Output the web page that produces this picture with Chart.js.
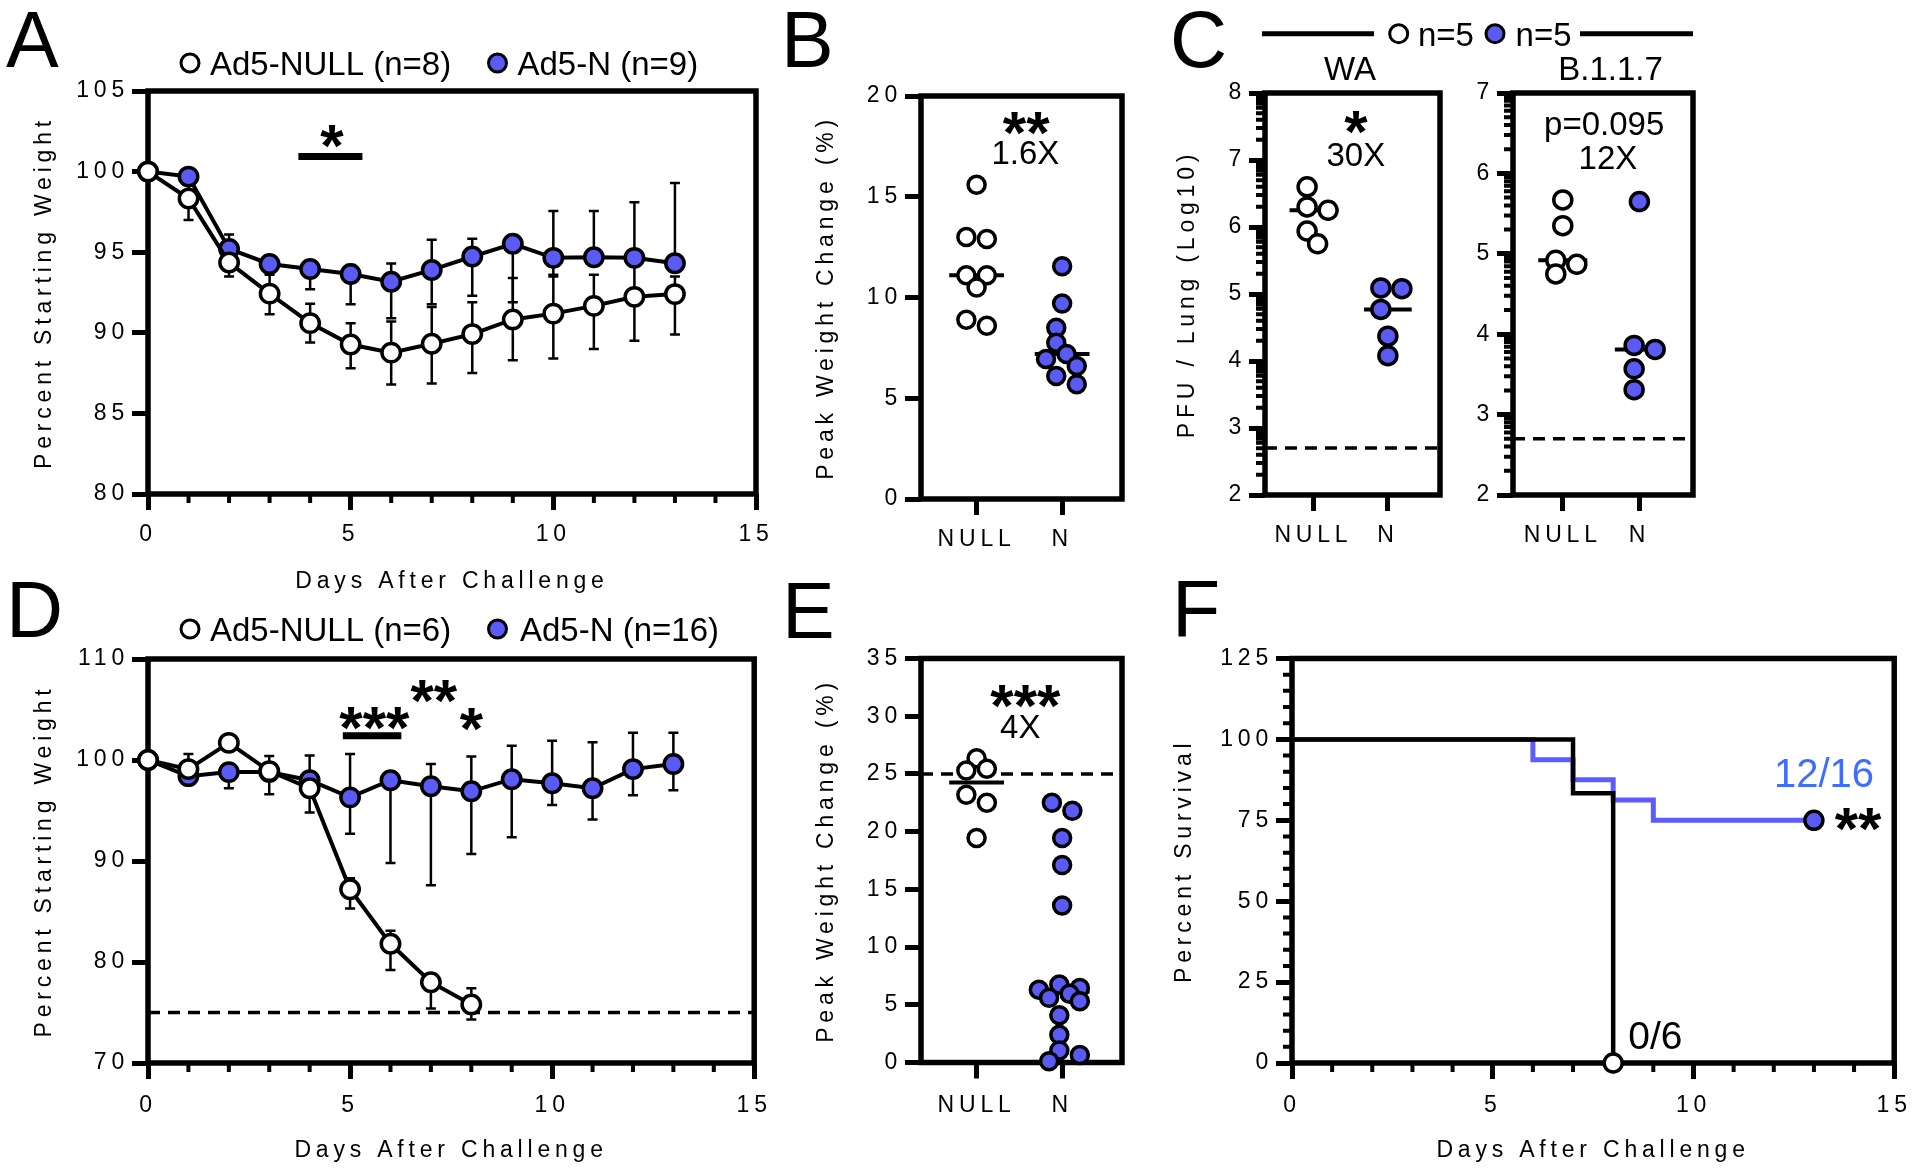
<!DOCTYPE html>
<html><head><meta charset="utf-8">
<script src="https://cdn.jsdelivr.net/npm/chart.js@4.4.1/dist/chart.umd.min.js"></script>
<style>
html,body{margin:0;padding:0;background:#fff;}
#fig{position:relative;width:1920px;height:1170px;background:#fff;overflow:hidden;}
#fig canvas{position:absolute;}
</style></head><body>
<div id="fig">
<canvas id="cA" width="780" height="600" style="left:0px;top:0px"></canvas>
<canvas id="cB" width="380" height="600" style="left:780px;top:0px"></canvas>
<canvas id="cWA" width="560" height="600" style="left:1160px;top:0px"></canvas>
<canvas id="cB117" width="460" height="600" style="left:1460px;top:0px"></canvas>
<canvas id="cD" width="780" height="610" style="left:0px;top:560px"></canvas>
<canvas id="cE" width="380" height="610" style="left:780px;top:560px"></canvas>
<canvas id="cF" width="760" height="610" style="left:1160px;top:560px"></canvas>
</div>
<script>
// ---------------- DATA ----------------
const daysA = [0,1,2,3,4,5,6,7,8,9,10,11,12,13];
const nullA     = [100, 98.33, 94.36, 92.43, 90.6, 89.27, 88.77, 89.32, 89.92, 90.83, 91.19, 91.67, 92.23, 92.4];
const nullALow  = [100, 97.0, 93.5, 91.15, 89.4, 87.8, 86.8, 86.85, 87.5, 88.3, 88.4, 89.0, 89.5, 89.9];
const nullAHigh = [100, 99.7, 95.2, 93.7, 91.8, 90.6, 90.7, 91.6, 91.9, 93.4, 93.6, 93.6, 94.9, 93.5];
const nA        = [100, 99.69, 95.2, 94.27, 93.96, 93.65, 93.17, 93.9, 94.73, 95.52, 94.65, 94.69, 94.65, 94.31];
const nALow     = [100, 99.4, 94.8, 93.6, 92.7, 91.77, 90.9, 91.77, 92.3, 91.9, 93.5, 94.27, 94.2, 93.8];
const nAHigh    = [100, 99.8, 96.1, 94.8, 94.5, 94.2, 94.3, 95.77, 95.83, 95.9, 97.56, 97.56, 98.1, 99.3];

const daysD = [0,1,2,3,4,5,6,7,8,9,10,11,12,13];
const nullD     = [100, 99.1, 101.7, 98.9, 97.2, 87.2, 81.8, 78.0, 75.8];
const nullDLow  = [100, 97.9, 101.0, 98.3, 94.8, 85.3, 79.2, 75.4, 74.3];
const nullDHigh = [100, 100.6, 102.3, 99.5, 97.8, 88.3, 83.1, 78.6, 77.4];
const nD        = [100, 98.4, 98.8, 98.8, 98.0, 96.3, 98.0, 97.4, 96.9, 98.1, 97.7, 97.2, 99.1, 99.6];
const nDLow     = [100, 97.8, 97.2, 96.6, 97.5, 92.7, 89.8, 87.6, 90.7, 92.35, 95.55, 94.1, 96.5, 97.0];
const nDHigh    = [100, 99.0, 99.5, 100.4, 100.45, 100.6, 98.7, 99.6, 100.35, 101.4, 101.9, 101.75, 102.7, 102.7];

const groupLabels = ['NULL', 'N'];
const peakNullB = [15.6, 13.0, 12.9, 11.1, 11.1, 10.5, 8.9, 8.6];
const peakNB    = [11.55, 9.7, 8.5, 7.75, 7.2, 6.95, 6.6, 6.1, 5.7];
const waNull    = [6.6, 6.3, 6.25, 5.94, 5.75];
const waN       = [5.09, 5.08, 4.77, 4.37, 4.08];
const b117Null  = [5.67, 5.35, 4.92, 4.87, 4.75];
const b117N     = [5.65, 3.86, 3.81, 3.57, 3.31];
const peakNullE = [26.35, 25.45, 25.3, 23.2, 22.5, 19.45];
const peakNE    = [22.5, 21.8, 19.45, 17.1, 13.6, 6.75, 6.45, 6.3, 5.95, 5.6, 5.3, 4.1, 2.4, 1.05, 0.65, 0.1];

const survDaysNull = [0, 7, 8];
const survNull     = [100, 83.33, 0];
const survDaysN    = [0, 6, 7, 8, 9, 13];
const survN        = [100, 93.75, 87.5, 81.25, 75, 75];

const weightCutoff = 75;
const peakCutoff = 25;
const pfuLimit = 2.7;

const legendA = ['Ad5-NULL (n=8)', 'Ad5-N (n=9)'];
const legendD = ['Ad5-NULL (n=6)', 'Ad5-N (n=16)'];
const legendC = ['n=5', 'n=5'];
const strainTitles = ['WA', 'B.1.1.7'];
const survLabels = ['0/6', '12/16'];

// ---------------- STYLE / HELPERS ----------------
const FONT = "'Liberation Sans', Arial, Helvetica, sans-serif";
const BLUE = '#5a5af5';
const BLUE_LINE = '#5c5cff';
const BLUE_TEXT = '#3f6dff';
const TICK_FONT = 23;
const SPACING = '4.8px';
const STAR = 60;

function median(a){const s=[...a].sort((p,q)=>p-q);const n=s.length;return n%2?s[(n-1)/2]:(s[n/2-1]+s[n/2])/2;}
function intRange(a,b,step){const r=[];for(let v=a;v<=b;v+=step)r.push(v);return r;}
function logMinors(a,b){const r=[];for(let k=a;k<b;k++){for(let m=2;m<=9;m++)r.push(k+Math.log10(m));}return r;}

function makePlugin(cfg){
  return {
    id: 'prism_' + cfg.id,
    beforeDraw(chart){ chart.ctx.letterSpacing = SPACING; },
    beforeDatasetsDraw(chart){
      const {ctx, chartArea:a, scales:{x, y}} = chart;
      ctx.save();
      ctx.letterSpacing = '0px';
      ctx.strokeStyle = '#000';
      ctx.lineWidth = 4;
      ctx.beginPath();
      (cfg.minorX||[]).forEach(v=>{const px=x.getPixelForValue(v);ctx.moveTo(px,a.bottom);ctx.lineTo(px,a.bottom+9);});
      (cfg.minorY||[]).forEach(v=>{const py=y.getPixelForValue(v);ctx.moveTo(a.left,py);ctx.lineTo(a.left-9,py);});
      ctx.stroke();
      ctx.lineWidth = 2.5;
      (cfg.errorBars||[]).forEach(eb=>{
        eb.xs.forEach((xv,i)=>{
          if (i >= eb.lows.length) return;
          if (eb.lows[i] === eb.highs[i]) return;
          const px=x.getPixelForValue(xv), lo=y.getPixelForValue(eb.lows[i]), hi=y.getPixelForValue(eb.highs[i]);
          ctx.beginPath();
          ctx.moveTo(px,lo);ctx.lineTo(px,hi);
          ctx.moveTo(px-5,lo);ctx.lineTo(px+5,lo);
          ctx.moveTo(px-5,hi);ctx.lineTo(px+5,hi);
          ctx.stroke();
        });
      });
      ctx.lineWidth = 5.5;
      ctx.strokeRect(a.left, a.top, a.right-a.left, a.bottom-a.top);
      ctx.restore();
    },
    afterDraw(chart){
      const {ctx, scales:{x, y}} = chart;
      const ox = cfg.ox, oy = cfg.oy;
      ctx.save();
      ctx.letterSpacing = '0px';
      ctx.textBaseline = 'alphabetic';
      if (cfg.letter){
        ctx.fillStyle='#000'; ctx.font = '79px ' + FONT; ctx.textAlign='left';
        ctx.fillText(cfg.letter.text, cfg.letter.x-ox, cfg.letter.y-oy);
      }
      (cfg.pageLines||[]).forEach(l=>{
        ctx.strokeStyle='#000'; ctx.lineWidth=l.w; ctx.beginPath();
        ctx.moveTo(l.x1-ox,l.y-oy); ctx.lineTo(l.x2-ox,l.y-oy); ctx.stroke();
      });
      (cfg.legend||[]).forEach(it=>{
        ctx.beginPath(); ctx.arc(it.cx-ox, it.cy-oy, 9, 0, Math.PI*2);
        ctx.fillStyle=it.fill; ctx.fill(); ctx.lineWidth=3; ctx.strokeStyle='#000'; ctx.stroke();
        ctx.fillStyle='#000'; ctx.font='33px '+FONT; ctx.textAlign='left';
        ctx.fillText(it.text, it.tx-ox, it.cy-oy+0.358*33);
      });
      (cfg.pageTexts||[]).forEach(t=>{
        ctx.fillStyle=t.color||'#000'; ctx.font=t.size+'px '+FONT; ctx.textAlign='center';
        ctx.fillText(t.text, t.x-ox, t.y-oy+0.358*t.size);
      });
      (cfg.underlines||[]).forEach(u=>{
        ctx.strokeStyle='#000'; ctx.lineWidth=7; ctx.beginPath();
        const py=y.getPixelForValue(u.y);
        ctx.moveTo(x.getPixelForValue(u.x1),py); ctx.lineTo(x.getPixelForValue(u.x2),py); ctx.stroke();
      });
      (cfg.notes||[]).forEach(t=>{
        const px=x.getPixelForValue(t.x), py=y.getPixelForValue(t.y);
        ctx.fillStyle=t.color||'#000';
        ctx.font=(t.star?'bold ':'')+t.size+'px '+FONT; ctx.textAlign='center';
        ctx.fillText(t.text, px, py + (t.star?0.47:0.358)*t.size);
      });
      ctx.restore();
    }
  };
}

function axis(o){
  const ax = {
    type:'linear', min:o.min, max:o.max, position:o.pos,
    border:{display:false},
    grid:{display:true, drawOnChartArea:false, drawTicks:true, tickLength:16, tickWidth:5, tickColor:'#000', color:'#000'},
    ticks:{stepSize:o.step, color:'#000', font:{family:FONT, size:TICK_FONT}, padding:o.pad, autoSkip:false, maxRotation:0},
    title: o.title ? {display:true, text:o.title, color:'#000', font:{family:FONT, size:TICK_FONT}, padding:{top:3,bottom:3}} : {display:false},
    afterFit:(s)=>{ if(o.pos==='left') s.width=o.size; else s.height=o.size; }
  };
  if (o.cats){
    ax.afterBuildTicks = (s)=>{ s.ticks = o.cats.map((c,i)=>({value:i})); };
    ax.ticks.callback = (v)=>o.cats[Math.round(v)];
  }
  return ax;
}

function lineDS(xs, ys, fill){
  return {data: ys.map((v,i)=>({x:xs[i], y:v})), borderColor:'#000', borderWidth:4, pointRadius:9.2,
          pointBorderWidth:3.5, pointBackgroundColor:fill, pointBorderColor:'#000', clip:false, tension:0};
}
function medianLine(c, m){ return {data:[{x:c-0.32,y:m},{x:c+0.32,y:m}], borderColor:'#000', borderWidth:4, pointRadius:0, clip:false}; }
function dashLine(x1, x2, yv){ return {data:[{x:x1,y:yv},{x:x2,y:yv}], borderColor:'#000', borderWidth:3.5, borderDash:[12,8], pointRadius:0, clip:false}; }
function dotDS(vals, c, fill, r){
  return {data: vals.map(v=>({x:c,y:v})), showLine:false, pointRadius:r, pointBorderWidth:3.5,
          pointBackgroundColor:fill, pointBorderColor:'#000', clip:false};
}

function build(id, cfg, datasets, xAx, yAx, padding){
  return new Chart(document.getElementById(id), {
    type:'line',
    data:{datasets},
    options:{
      responsive:false, animation:false, devicePixelRatio:1, events:[],
      layout:{padding},
      plugins:{legend:{display:false}, tooltip:{enabled:false}},
      scales:{x:axis(xAx), y:axis(yAx)}
    },
    plugins:[makePlugin(cfg)]
  });
}

// simple beeswarm: places points left/right of the group centre so markers overlap only partly
function swarmOffsets(values, yPix, ppu, diam){
  const order = values.map((v,i)=>i).sort((a,b)=>values[b]-values[a]);
  const out = new Array(values.length).fill(0);
  const step = diam*0.5, minD = diam*0.65, maxK = 2;
  let cluster = [], prevY = null;
  const flush = ()=>{
    if(!cluster.length) return;
    const m = cluster.reduce((s,p)=>s+p.x,0)/cluster.length;
    cluster.forEach(p=>{ out[p.i] = (p.x-m)/ppu; });
    cluster = [];
  };
  for (const i of order){
    const yy = yPix(values[i]);
    if (prevY!==null && yy-prevY >= diam) flush();
    const cands = [0];
    for (let k=1;k<=maxK;k++){ cands.push(k*step, -k*step); }
    let chosen = null, best = null, bestD = -1;
    for (const c of cands){
      const d = cluster.length ? Math.min(...cluster.map(p=>Math.hypot(p.x-c, p.y-yy))) : Infinity;
      if (d >= minD){ chosen = c; break; }
      if (d > bestD){ bestD = d; best = c; }
    }
    if (chosen === null) chosen = best;
    cluster.push({i, x:chosen, y:yy});
    prevY = yy;
  }
  flush();
  return out;
}
function swarmize(chart, specs){
  const xs=chart.scales.x, ys=chart.scales.y;
  const ppu = xs.getPixelForValue(1)-xs.getPixelForValue(0);
  specs.forEach(sp=>{
    const off = swarmOffsets(sp.values, v=>ys.getPixelForValue(v), ppu, sp.diam);
    chart.data.datasets[sp.ds].data = sp.values.map((v,i)=>({x:sp.center+off[i], y:v}));
  });
  chart.update('none');
}

const minorDays = intRange(0,15,1).filter(v=>v%5!==0);

// ---------------- PANEL A ----------------
build('cA', {
  id:'A', ox:0, oy:0,
  letter:{text:'A', x:6, y:67},
  minorX: minorDays,
  errorBars:[{xs:daysA, lows:nALow, highs:nAHigh},{xs:daysA, lows:nullALow, highs:nullAHigh}],
  legend:[{cx:190, cy:63, fill:'#fff', text:legendA[0], tx:210},{cx:497.5, cy:63, fill:BLUE, text:legendA[1], tx:517.5}],
  underlines:[{x1:3.71, x2:5.29, y:100.93}],
  notes:[{text:'*', x:4.54, y:102.1, size:STAR, star:true}]
}, [lineDS(daysA, nullA, '#fff'), lineDS(daysA, nA, BLUE)],
 {min:0, max:15, step:5, pos:'bottom', size:104, pad:11, title:'Days After Challenge'},
 {min:80, max:105, step:5, pos:'left', size:120, pad:3, title:'Percent Starting Weight'},
 {left:28, top:91, right:24, bottom:2});

// ---------------- PANEL B ----------------
const chB = build('cB', {
  id:'B', ox:780, oy:0,
  letter:{text:'B', x:781, y:67},
  notes:[{text:'**', x:0.58, y:18.55, size:STAR, star:true},{text:'1.6X', x:0.57, y:17.2, size:33}]
}, [dotDS(peakNullB,0,'#fff',8.5), dotDS(peakNB,1,BLUE,8.5), medianLine(0, median(peakNullB)), medianLine(1, median(peakNB))],
 {min:-0.65, max:1.7, pos:'bottom', size:60, pad:11, cats:groupLabels},
 {min:0, max:20, step:5, pos:'left', size:111, pad:3, title:'Peak Weight Change (%)'},
 {left:30, top:96, right:38, bottom:41});
swarmize(chB, [{ds:0, values:peakNullB, center:0, diam:20.5},{ds:1, values:peakNB, center:1, diam:20.5}]);

// ---------------- PANEL C ----------------
const chWA = build('cWA', {
  id:'WA', ox:1160, oy:0,
  letter:{text:'C', x:1170, y:67},
  minorY: logMinors(2,8),
  pageLines:[{x1:1262, x2:1374, y:33.7, w:5},{x1:1580, x2:1693, y:33.7, w:5}],
  legend:[{cx:1398.7, cy:33.7, fill:'#fff', text:legendC[0], tx:1418},{cx:1495, cy:33.7, fill:BLUE, text:legendC[1], tx:1515.6}],
  pageTexts:[{text:strainTitles[0], x:1350, y:68, size:33},{text:strainTitles[1], x:1610.6, y:68, size:33}],
  notes:[{text:'*', x:0.57, y:7.54, size:STAR, star:true},{text:'30X', x:0.57, y:7.09, size:33}]
}, [dotDS(waNull,0,'#fff',9), dotDS(waN,1,BLUE,9), medianLine(0, median(waNull)), medianLine(1, median(waN)), dashLine(-0.65,1.7,pfuLimit)],
 {min:-0.65, max:1.7, pos:'bottom', size:60, pad:11, cats:groupLabels},
 {min:2, max:8, step:1, pos:'left', size:94, pad:3, title:'PFU / Lung (Log10)'},
 {left:11, top:93, right:280, bottom:45});
swarmize(chWA, [{ds:0, values:waNull, center:0, diam:21},{ds:1, values:waN, center:1, diam:21}]);

const chB117 = build('cB117', {
  id:'B117', ox:1460, oy:0,
  minorY: logMinors(2,7),
  notes:[{text:'p=0.095', x:0.54, y:6.62, size:33},{text:'12X', x:0.59, y:6.2, size:33}]
}, [dotDS(b117Null,0,'#fff',9), dotDS(b117N,1,BLUE,9), medianLine(0, median(b117Null)), medianLine(1, median(b117N)), dashLine(-0.65,1.7,pfuLimit)],
 {min:-0.65, max:1.7, pos:'bottom', size:60, pad:11, cats:groupLabels},
 {min:2, max:7, step:1, pos:'left', size:53, pad:3},
 {left:0, top:93, right:227, bottom:45});
swarmize(chB117, [{ds:0, values:b117Null, center:0, diam:21},{ds:1, values:b117N, center:1, diam:21}]);

// ---------------- PANEL D ----------------
build('cD', {
  id:'D', ox:0, oy:560,
  letter:{text:'D', x:6, y:637},
  minorX: minorDays,
  errorBars:[{xs:daysD, lows:nDLow, highs:nDHigh},{xs:daysD, lows:nullDLow, highs:nullDHigh}],
  legend:[{cx:190, cy:629, fill:'#fff', text:legendD[0], tx:210},{cx:497.5, cy:629, fill:BLUE, text:legendD[1], tx:520}],
  underlines:[{x1:4.82, x2:6.27, y:102.4}],
  notes:[{text:'***', x:5.6, y:104.0, size:STAR, star:true},{text:'**', x:7.07, y:106.7, size:STAR, star:true},{text:'*', x:8.0, y:103.9, size:STAR, star:true}]
}, [lineDS(daysD, nullD, '#fff'), lineDS(daysD, nD, BLUE), dashLine(0,15,weightCutoff)],
 {min:0, max:15, step:5, pos:'bottom', size:104, pad:13, title:'Days After Challenge'},
 {min:70, max:110, step:10, pos:'left', size:120, pad:3, title:'Percent Starting Weight'},
 {left:28, top:99, right:24, bottom:3});

// ---------------- PANEL E ----------------
const chE = build('cE', {
  id:'E', ox:780, oy:560,
  letter:{text:'E', x:782, y:638},
  notes:[{text:'***', x:0.57, y:31.6, size:STAR, star:true},{text:'4X', x:0.51, y:29.1, size:33}]
}, [dotDS(peakNullE,0,'#fff',8.5), dotDS(peakNE,1,BLUE,8.5), medianLine(0, median(peakNullE)), medianLine(1, median(peakNE)), dashLine(-0.65,1.7,peakCutoff)],
 {min:-0.65, max:1.7, pos:'bottom', size:60, pad:13, cats:groupLabels},
 {min:0, max:35, step:5, pos:'left', size:111, pad:3, title:'Peak Weight Change (%)'},
 {left:30, top:98.5, right:38, bottom:47.5});
swarmize(chE, [{ds:0, values:peakNullE, center:0, diam:20.5},{ds:1, values:peakNE, center:1, diam:20.5}]);

// ---------------- PANEL F ----------------
build('cF', {
  id:'F', ox:1160, oy:560,
  letter:{text:'F', x:1172, y:636},
  minorX: minorDays,
  minorY: intRange(0,125,5).filter(v=>v%25!==0),
  notes:[{text:survLabels[1], x:13.25, y:89.6, size:40, color:BLUE_TEXT},{text:survLabels[0], x:9.05, y:8.5, size:39},{text:'**', x:14.1, y:74.7, size:STAR, star:true}]
}, [
  {data: survNull.map((v,i)=>({x:survDaysNull[i], y:v})), stepped:'before', borderColor:'#000', borderWidth:4.5,
   pointRadius:(c)=>c.dataIndex===survNull.length-1?9:0, pointBorderWidth:3.5, pointBackgroundColor:'#fff', pointBorderColor:'#000', clip:false},
  {data: survN.map((v,i)=>({x:survDaysN[i], y:v})), stepped:'before', borderColor:BLUE_LINE, borderWidth:5,
   pointRadius:(c)=>c.dataIndex===survN.length-1?9:0, pointBorderWidth:3.5, pointBackgroundColor:BLUE, pointBorderColor:'#000', clip:false}
 ],
 {min:0, max:15, step:5, pos:'bottom', size:104, pad:13, title:'Days After Challenge'},
 {min:0, max:125, step:25, pos:'left', size:124, pad:3, title:'Percent Survival'},
 {left:8, top:98.5, right:20, bottom:3});
</script>
</body></html>
